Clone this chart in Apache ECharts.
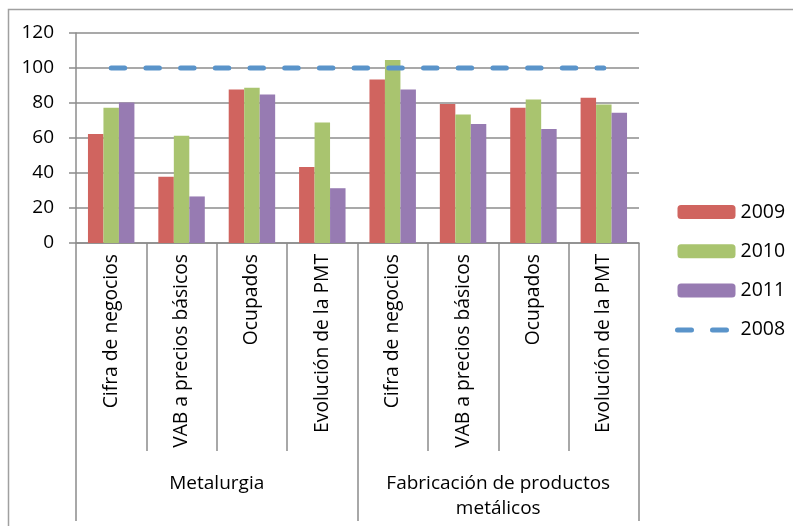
<!DOCTYPE html>
<html>
<head>
<meta charset="utf-8">
<script src="https://cdn.jsdelivr.net/npm/echarts@6/dist/echarts.min.js"></script>
<style>
html,body{margin:0;padding:0;background:#fff;}
#c{width:793px;height:526px;}
</style>
</head>
<body>
<div id="c"></div>
<script>
const categories = ['Cifra de negocios','VAB a precios básicos','Ocupados','Evolución de la PMT','Cifra de negocios','VAB a precios básicos','Ocupados','Evolución de la PMT'];
const groups = ['Metalurgia','Fabricación de productos\nmetálicos'];
const yTicks = [0, 20, 40, 60, 80, 100, 120];
const s2009 = [62.3, 37.8, 87.7, 43.5, 93.4, 79.4, 77.3, 83.0];
const s2010 = [77.3, 61.3, 88.7, 68.9, 104.6, 73.5, 82.0, 79.2];
const s2011 = [80.3, 26.6, 84.9, 31.3, 87.7, 68.0, 65.1, 74.4];
const s2008 = [100, 100, 100, 100, 100, 100, 100, 100];

const family = '"Open Sans"';
function fit(text, target){
  const ctx = document.createElement('canvas').getContext('2d');
  ctx.font = '100px ' + family + ', sans-serif';
  const w = ctx.measureText(text).width;
  return Math.round(100 * target / w * 10) / 10;
}
const fsRot = fit('VAB a precios básicos', 194);
const fsGroup = fit('Fabricación de productos', 224);
const fsY = 19;
const fsLeg = 19.5;

const axisGray = '#8c8c8c';
const chart = echarts.init(document.getElementById('c'), null, {renderer:'canvas'});
chart.setOption({
  backgroundColor:'#ffffff',
  animation:false,
  textStyle:{fontFamily:family},
  graphic:[{type:'rect',shape:{x:8.5,y:9.5,width:800,height:530},style:{fill:'none',stroke:'#a0a0a0',lineWidth:1.5},silent:true}],
  grid:{left:76,right:154,top:33,bottom:283,containLabel:false},
  legend:{
    orient:'vertical',left:675,top:202,padding:0,itemWidth:58,itemHeight:14,itemGap:19.3,
    textStyle:{fontSize:fsLeg,lineHeight:20,color:'#000',fontFamily:family},
    data:['2009','2010','2011',{name:'2008',itemStyle:{opacity:0},lineStyle:{color:'#5a94ca',width:5,type:[14,21],cap:'round'}}]
  },
  xAxis:[{
    type:'category',data:categories,position:'bottom',
    axisLine:{lineStyle:{color:axisGray,width:1.5}},
    axisTick:{show:true,interval:0,length:208,lineStyle:{color:axisGray,width:1.5}},
    axisLabel:{interval:0,rotate:90,fontSize:fsRot,color:'#000',margin:11,fontFamily:family}
  },{
    type:'category',data:groups,position:'bottom',
    axisLine:{show:false},
    axisTick:{show:true,interval:0,length:278,lineStyle:{color:axisGray,width:1.5}},
    axisLabel:{interval:0,fontSize:fsGroup,color:'#000',margin:228,lineHeight:25,align:'center',fontFamily:family}
  }],
  yAxis:{
    type:'value',min:0,max:120,interval:20,
    axisLine:{show:true,lineStyle:{color:axisGray,width:1.5}},
    axisTick:{show:true,length:7,lineStyle:{color:axisGray,width:1.5}},
    splitLine:{lineStyle:{color:axisGray,width:1.5}},
    axisLabel:{fontSize:fsY,color:'#000',margin:22,fontFamily:family,
      formatter:function(v){return yTicks.indexOf(v)>=0?String(v):'';}}
  },
  series:[
    {name:'2009',type:'bar',data:s2009,barGap:'0%',barCategoryGap:'34%',itemStyle:{color:'#d0645f'}},
    {name:'2010',type:'bar',data:s2010,barGap:'0%',barCategoryGap:'34%',itemStyle:{color:'#a9c46f'}},
    {name:'2011',type:'bar',data:s2011,barGap:'0%',barCategoryGap:'34%',itemStyle:{color:'#977bb2'}},
    {name:'2008',type:'line',data:s2008,symbol:'none',z:5,
      lineStyle:{color:'#5a94ca',width:5,type:[13.5,21.2],cap:'round'},
      itemStyle:{color:'#5a94ca'}}
  ]
});
</script>
</body>
</html>
